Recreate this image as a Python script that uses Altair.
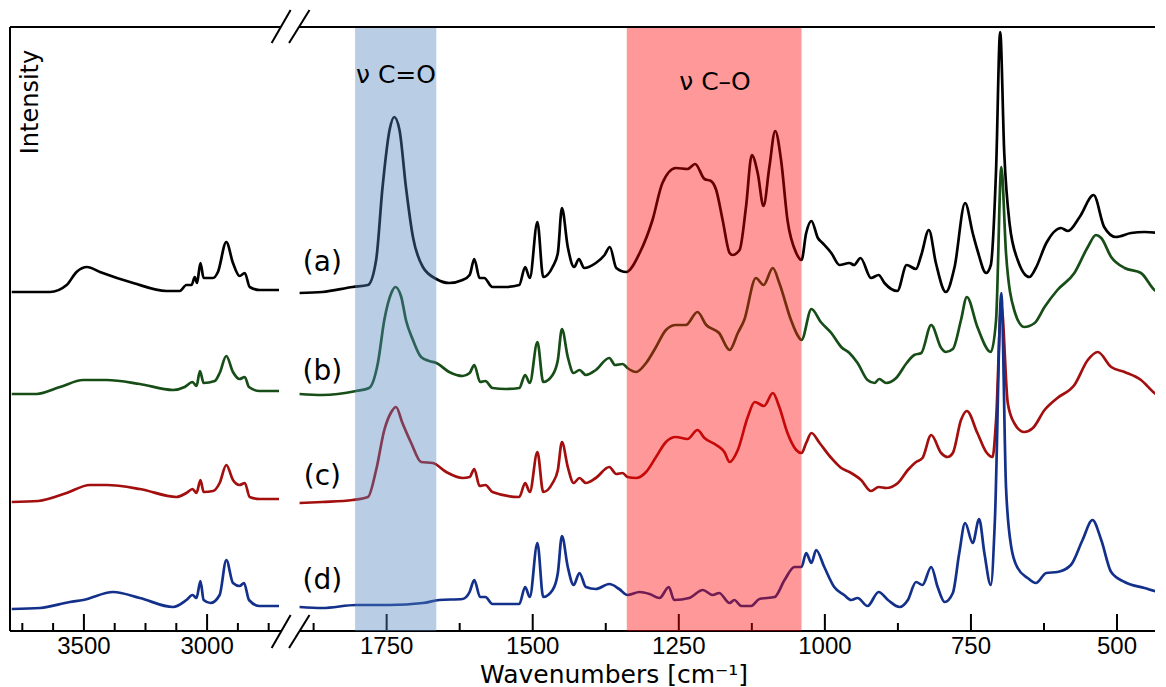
import altair as alt
import pandas as pd

# ---------------- data ----------------
SERIES = ["(a)", "(b)", "(c)", "(d)"]
COLORS = ["#000000", "#174d17", "#a30f0f", "#13308a"]

# high-wavenumber segment (cm-1) and intensities (a.u., offset spectra)
left_wn_a = [3793, 3638, 3570, 3530, 3487, 3435, 3300, 3165, 3111, 3084, 3063, 3050, 3041, 3027, 3014, 2976, 2956, 2922, 2895, 2868, 2847, 2827, 2787, 2708]
left_int_a = [339, 339, 346, 359, 364, 359, 348, 340, 340, 346, 346, 354, 348, 368, 353, 353, 359, 389, 368, 355, 358, 344, 341, 341]
left_wn_b = [3793, 3692, 3597, 3503, 3408, 3273, 3138, 3091, 3059, 3043, 3029, 3014, 2969, 2949, 2922, 2895, 2868, 2847, 2830, 2787, 2708]
left_int_b = [237, 237, 244, 251, 251, 247, 241, 244, 249, 245, 260, 248, 250, 258, 275, 259, 252, 254, 244, 240, 240]
left_wn_c = [3793, 3685, 3570, 3476, 3408, 3273, 3124, 3084, 3059, 3043, 3027, 3014, 2976, 2949, 2922, 2895, 2868, 2847, 2827, 2787, 2708]
left_int_c = [129, 130, 138, 146, 146, 142, 134, 138, 142, 138, 151, 139, 140, 148, 166, 151, 146, 148, 134, 132, 132]
left_wn_d = [3793, 3678, 3557, 3503, 3381, 3273, 3138, 3084, 3059, 3043, 3027, 3014, 2986, 2949, 2922, 2895, 2868, 2850, 2830, 2787, 2708]
left_int_d = [22, 23, 29, 31, 39, 33, 24, 31, 36, 33, 50, 31, 28, 36, 71, 48, 45, 48, 31, 25, 25]

# fingerprint segment
right_wn_a = [1899, 1860, 1808, 1782, 1768, 1757, 1745, 1737, 1728, 1717, 1705, 1688, 1665, 1643, 1620, 1608, 1600, 1591, 1583, 1569, 1546, 1523, 1513, 1505, 1492, 1482, 1466, 1457, 1450, 1440, 1429, 1421, 1412, 1392, 1377, 1368, 1357, 1340, 1317, 1295, 1278, 1255, 1235, 1222, 1206, 1195, 1186, 1175, 1163, 1158, 1146, 1135, 1125, 1115, 1105, 1095, 1085, 1075, 1064, 1049, 1040, 1032, 1023, 1012, 1004, 989, 975, 958, 950, 939, 921, 908, 898, 876, 860, 844, 835, 822, 810, 793, 778, 760, 747, 739, 724, 716, 707, 700, 693, 684, 670, 650, 639, 621, 596, 584, 564, 540, 522, 502, 476, 453, 430, 419]
right_int_a = [338, 339, 344, 346, 371, 444, 501, 514, 501, 444, 394, 364, 352, 348, 351, 356, 372, 353, 353, 344, 344, 346, 364, 353, 409, 354, 364, 378, 423, 384, 364, 372, 363, 368, 376, 384, 363, 359, 378, 411, 448, 463, 462, 467, 452, 450, 441, 411, 378, 376, 381, 424, 476, 458, 425, 464, 500, 471, 411, 378, 371, 398, 410, 393, 388, 378, 366, 368, 366, 373, 353, 356, 348, 340, 366, 362, 376, 401, 368, 339, 364, 428, 398, 381, 358, 366, 461, 599, 478, 408, 371, 354, 363, 388, 403, 400, 414, 436, 404, 394, 398, 399, 398, 394]
right_wn_b = [1899, 1860, 1802, 1780, 1765, 1754, 1742, 1735, 1725, 1717, 1705, 1691, 1677, 1665, 1643, 1620, 1608, 1600, 1590, 1581, 1569, 1546, 1523, 1513, 1505, 1492, 1482, 1466, 1457, 1450, 1440, 1430, 1420, 1409, 1392, 1369, 1359, 1346, 1338, 1323, 1306, 1289, 1272, 1255, 1238, 1218, 1203, 1181, 1163, 1149, 1138, 1118, 1105, 1089, 1078, 1058, 1047, 1040, 1023, 1007, 989, 972, 958, 944, 927, 915, 907, 895, 878, 860, 847, 835, 818, 801, 793, 781, 767, 757, 739, 716, 707, 698, 690, 676, 659, 641, 624, 602, 573, 550, 536, 527, 510, 487, 459, 436, 419]
right_int_b = [237, 236, 240, 243, 268, 311, 338, 344, 334, 311, 291, 274, 270, 268, 259, 255, 258, 266, 249, 250, 243, 242, 243, 256, 248, 289, 249, 256, 271, 302, 274, 258, 261, 256, 261, 273, 266, 267, 263, 259, 268, 284, 301, 306, 306, 319, 306, 298, 281, 298, 311, 353, 346, 363, 348, 311, 296, 291, 322, 309, 298, 284, 278, 268, 251, 248, 252, 248, 253, 268, 276, 278, 306, 283, 279, 282, 311, 334, 304, 279, 311, 464, 378, 321, 304, 308, 324, 341, 358, 384, 396, 393, 374, 363, 358, 341, 336]
right_wn_c = [1899, 1860, 1808, 1782, 1768, 1754, 1742, 1734, 1723, 1708, 1691, 1671, 1648, 1620, 1608, 1600, 1591, 1581, 1569, 1523, 1513, 1505, 1492, 1482, 1466, 1457, 1450, 1440, 1430, 1420, 1409, 1392, 1369, 1357, 1346, 1338, 1323, 1306, 1289, 1272, 1255, 1235, 1218, 1206, 1186, 1172, 1163, 1149, 1132, 1120, 1104, 1089, 1078, 1064, 1049, 1040, 1032, 1023, 1009, 989, 972, 958, 938, 921, 908, 895, 875, 858, 844, 833, 818, 801, 790, 781, 767, 757, 739, 724, 713, 707, 698, 687, 676, 659, 644, 624, 602, 573, 550, 533, 510, 487, 459, 436, 419]
right_int_c = [128, 129, 131, 134, 161, 201, 219, 224, 208, 188, 169, 168, 159, 153, 154, 162, 145, 146, 139, 134, 148, 139, 179, 139, 148, 161, 189, 164, 148, 153, 148, 153, 164, 157, 158, 154, 153, 159, 174, 189, 194, 192, 201, 193, 186, 179, 169, 181, 214, 229, 225, 238, 224, 198, 181, 178, 188, 198, 188, 173, 163, 159, 151, 140, 144, 143, 148, 161, 169, 173, 196, 178, 174, 178, 211, 220, 198, 179, 174, 211, 326, 228, 208, 199, 203, 221, 233, 246, 271, 279, 264, 259, 251, 238, 231]
right_wn_d = [1899, 1860, 1802, 1745, 1688, 1660, 1620, 1608, 1600, 1590, 1581, 1569, 1523, 1513, 1505, 1492, 1482, 1466, 1457, 1450, 1440, 1430, 1420, 1409, 1392, 1369, 1352, 1338, 1317, 1300, 1283, 1267, 1258, 1232, 1209, 1192, 1181, 1163, 1155, 1143, 1126, 1112, 1086, 1069, 1052, 1040, 1032, 1023, 1015, 1001, 984, 967, 955, 944, 927, 908, 892, 872, 858, 844, 833, 818, 807, 795, 781, 770, 760, 747, 736, 727, 716, 709, 698, 690, 681, 670, 653, 639, 621, 602, 579, 559, 542, 527, 510, 487, 453, 425, 419]
right_int_d = [24, 23, 26, 26, 28, 31, 32, 39, 51, 34, 34, 27, 27, 44, 34, 88, 34, 41, 58, 95, 64, 46, 58, 44, 42, 47, 42, 36, 39, 37, 33, 44, 31, 33, 41, 36, 38, 28, 31, 25, 25, 32, 34, 51, 64, 64, 78, 68, 81, 64, 44, 36, 31, 33, 25, 39, 31, 24, 31, 49, 46, 64, 44, 29, 38, 78, 108, 88, 112, 78, 46, 111, 338, 144, 84, 63, 53, 48, 58, 59, 66, 91, 111, 91, 59, 49, 43, 39, 43]

# axis ticks (major = labelled, minor = short inner ticks)
left_major = [3500, 3000]
left_minor = [3750, 3625, 3375, 3250, 3125, 2875, 2750]
right_major = [1750, 1500, 1250, 1000, 750, 500]
right_minor = [1875, 1625, 1375, 1125, 875, 625]
x_title = "Wavenumbers [cm\u207b\u00b9]"
y_title = "Intensity"

# highlighted bands (cm-1)
band_labels = ["\u03bd C=O", "\u03bd C\u2013O"]
band_start = [1665, 1040]
band_end = [1804, 1339]
band_colors = ["#4F81BD", "#FF0000"]
band_label_wn = [1734, 1188]
band_label_int = [556, 549]

# series labels
label_wn = [1860, 1860, 1860, 1860]
label_int = [368, 259, 154, 50]

# axis break marks
break_left_wn = [2738, 2661]
break_right_wn = [1917, 1882]
break_top = [588, 621]
break_bottom = [-17, 16]

LEFT_DOMAIN = [2700, 3800]
RIGHT_DOMAIN = [435, 1900]
Y_DOMAIN = [0, 604]
HEIGHT = 604
LEFT_W = 271
RIGHT_W = 856
MAJOR_LEN = 17
MINOR_LEN = 8
LABEL_FONT = "Liberation Sans"
TEXT_FONT = "DejaVu Sans"


def long_frame(wn_lists, int_lists):
    rows = []
    for name, wn, iv in zip(SERIES, wn_lists, int_lists):
        assert len(wn) == len(iv), name
        for w, v in zip(wn, iv):
            rows.append({"series": name, "wn": w, "intensity": v})
    return pd.DataFrame(rows)


left_df = long_frame([left_wn_a, left_wn_b, left_wn_c, left_wn_d],
                     [left_int_a, left_int_b, left_int_c, left_int_d])
right_df = long_frame([right_wn_a, right_wn_b, right_wn_c, right_wn_d],
                      [right_int_a, right_int_b, right_int_c, right_int_d])


def xscale(dom):
    return alt.Scale(domain=dom, reverse=True, nice=False, zero=False)


yscale = alt.Scale(domain=Y_DOMAIN, nice=False, zero=False)
color = alt.Color("series:N", scale=alt.Scale(domain=SERIES, range=COLORS), legend=None)
one_row = pd.DataFrame({"k": [0]})


def spectra(df, dom):
    return alt.Chart(df).mark_line(strokeWidth=2.7, clip=True, interpolate="monotone").encode(
        x=alt.X("wn:Q", scale=xscale(dom), axis=None),
        y=alt.Y("intensity:Q", scale=yscale, axis=None),
        color=color,
        order=alt.Order("wn:Q", sort="descending"),
    )


def x_axis(majors, minors, dom):
    layers = [
        alt.Chart(one_row).mark_rule(color="black", strokeWidth=2).encode(
            x=alt.value(0), x2=alt.value("width"), y=alt.value(HEIGHT)),
    ]
    for vals, length in ((majors, MAJOR_LEN), (minors, MINOR_LEN)):
        layers.append(
            alt.Chart(pd.DataFrame({"v": vals})).mark_rule(color="black", strokeWidth=2).encode(
                x=alt.X("v:Q", scale=xscale(dom), axis=None),
                y=alt.value(HEIGHT), y2=alt.value(HEIGHT - length)))
    layers.append(
        alt.Chart(pd.DataFrame({"v": majors})).mark_text(
            font=LABEL_FONT, fontSize=24, color="black", align="center", baseline="alphabetic"
        ).encode(x=alt.X("v:Q", scale=xscale(dom), axis=None), y=alt.value(HEIGHT + 23),
                 text=alt.Text("v:Q", format="d")))
    return layers


def top_border():
    return alt.Chart(one_row).mark_rule(color="black", strokeWidth=2).encode(
        x=alt.value(0), x2=alt.value("width"), y=alt.value(0))


def breaks(wn_pair, dom):
    df = pd.DataFrame({
        "x": [wn_pair[0], wn_pair[0]], "x2": [wn_pair[1], wn_pair[1]],
        "y": [break_top[0], break_bottom[0]], "y2": [break_top[1], break_bottom[1]],
    })
    return alt.Chart(df).mark_rule(color="black", strokeWidth=2, clip=False).encode(
        x=alt.X("x:Q", scale=xscale(dom), axis=None), x2="x2:Q",
        y=alt.Y("y:Q", scale=yscale, axis=None), y2="y2:Q")


# ---------------- left panel ----------------
left_border = alt.Chart(one_row).mark_rule(color="black", strokeWidth=2).encode(
    x=alt.value(0), y=alt.value(0), y2=alt.value(HEIGHT))
intensity_title = alt.Chart(pd.DataFrame({"t": [y_title]})).mark_text(
    angle=270, font=TEXT_FONT, fontSize=24, color="black", align="center", baseline="middle"
).encode(x=alt.value(21), y=alt.value(75), text="t:N")

left = alt.layer(spectra(left_df, LEFT_DOMAIN), *x_axis(left_major, left_minor, LEFT_DOMAIN),
                 left_border, top_border(), breaks(break_left_wn, LEFT_DOMAIN),
                 intensity_title).properties(width=LEFT_W, height=HEIGHT)

# ---------------- right panel ----------------
band_layers = []
for s, e, c in zip(band_start, band_end, band_colors):
    band_layers.append(
        alt.Chart(pd.DataFrame({"s": [s], "e": [e]})).mark_rect(color=c, opacity=0.4).encode(
            x=alt.X("s:Q", scale=xscale(RIGHT_DOMAIN), axis=None), x2="e:Q",
            y=alt.value(0), y2=alt.value("height")))

band_text = alt.Chart(pd.DataFrame({"t": band_labels, "w": band_label_wn, "i": band_label_int})).mark_text(
    font=TEXT_FONT, fontSize=25, color="black", align="center", baseline="middle"
).encode(x=alt.X("w:Q", scale=xscale(RIGHT_DOMAIN), axis=None),
         y=alt.Y("i:Q", scale=yscale, axis=None), text="t:N")

series_text = alt.Chart(pd.DataFrame({"t": SERIES, "w": label_wn, "i": label_int})).mark_text(
    font=TEXT_FONT, fontSize=28, color="black", align="center", baseline="middle"
).encode(x=alt.X("w:Q", scale=xscale(RIGHT_DOMAIN), axis=None),
         y=alt.Y("i:Q", scale=yscale, axis=None), text="t:N")

x_title_text = alt.Chart(pd.DataFrame({"t": [x_title]})).mark_text(
    font=TEXT_FONT, fontSize=25, color="black", align="center", baseline="alphabetic"
).encode(x=alt.value(315), y=alt.value(HEIGHT + 52), text="t:N")

right = alt.layer(spectra(right_df, RIGHT_DOMAIN), *x_axis(right_major, right_minor, RIGHT_DOMAIN),
                  *band_layers, top_border(), breaks(break_right_wn, RIGHT_DOMAIN),
                  band_text, series_text, x_title_text).properties(width=RIGHT_W, height=HEIGHT)

chart = alt.hconcat(left, right, spacing=18, bounds="flush").properties(
    padding={"left": 1, "top": 0, "right": 0, "bottom": 0}
).configure_view(stroke=None)

chart.save("out.html", embed_options={"renderer": "svg", "actions": False})
